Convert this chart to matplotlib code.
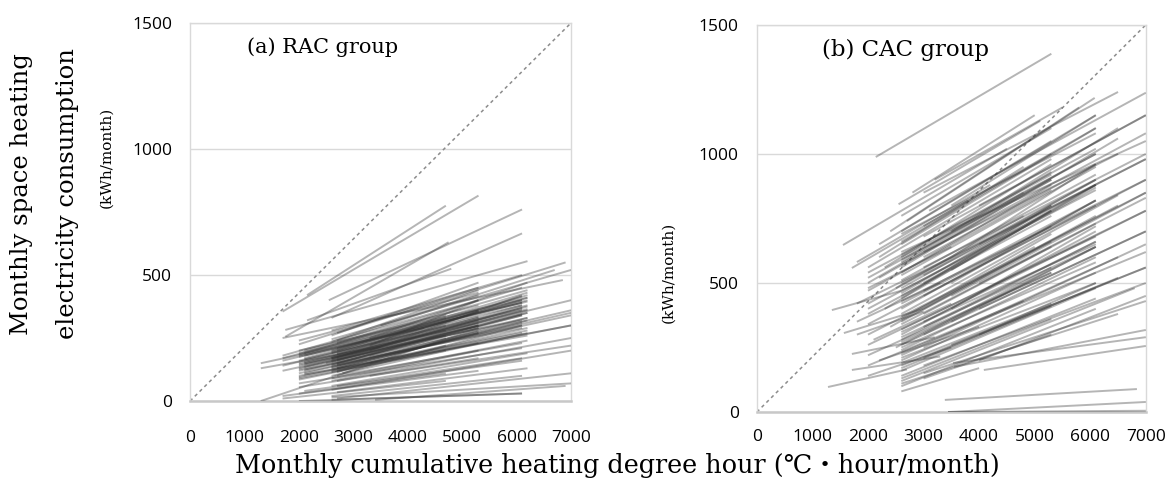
import matplotlib
matplotlib.use("Agg")
import matplotlib.pyplot as plt

# ---------------- data: each segment = (x0, y0) -> (x1, y1) ----------------
rac_x0 = [1700, 2150, 2550, 2600, 1750, 1750, 2150, 1700, 2700, 2600, 2000, 2600, 2700, 2100, 2600, 1700, 1700,
          1300, 1300, 1300, 2000, 2000, 2100, 2000, 2600, 2500, 2700, 2000, 2100, 2600, 2000, 2800, 2700, 2100,
          2000, 2600, 2700, 2000, 1700, 1700, 2600, 2700, 2100, 2600, 2000, 2700, 2600, 2000, 2100, 2600, 2700,
          2000, 2600, 2700, 1700, 2600, 3400, 1700, 2600, 2700, 2000, 3300, 2600, 3500, 2700, 2100, 2600, 2700,
          2000, 2600, 2100, 2700, 3300, 2600, 2000, 2700, 2600, 2000, 3300, 2700, 1700, 2600, 2700, 2100, 3300,
          2600, 2000,
          2000, 2100, 2600, 2700, 2000, 2600, 2100, 2700, 2000, 2600, 3300, 2000, 2600, 2100, 2700, 2000, 2600,
          2700, 2100, 2600, 2000, 3300, 2600, 2700, 2000, 2600, 2100, 2700]
rac_y0 = [355, 420, 400, 330, 282, 255, 320, 250, 270, 245, 225, 260, 200, 190, 235, 180, 160,
          150, 130, 0, 200, 175, 150, 130, 170, 150, 140, 110, 120, 130, 95, 110, 160, 145,
          85, 100, 120, 160, 140, 120, 190, 210, 200, 90, 70, 80, 60, 55, 40, 45, 35,
          30, 20, 10, 10, 5, 5, 20, 170, 230, 240, 250, 280, 300, 185, 170, 140, 150,
          145, 120, 105, 100, 150, 80, 90, 60, 200, 180, 180, 240, 170, 160, 130, 125, 100,
          15, 0,
          185, 165, 155, 175, 140, 125, 135, 115, 120, 165, 200, 150, 145, 110, 190, 190, 175,
          130, 155, 135, 100, 220, 115, 165, 125, 195, 180, 145]
rac_x1 = [5300, 4700, 6100, 6100, 6200, 4750, 4800, 6850, 6900, 7000, 5300, 5300, 6200, 6200, 5300, 5300, 6100,
          4300, 3500, 5300, 6200, 6100, 6200, 5300, 6200, 6100, 7000, 6100, 5300, 6200, 6200, 6100, 5300, 4700,
          5300, 6200, 7000, 6100, 5300, 4700, 6100, 5300, 5300, 6200, 6100, 7000, 6200, 5300, 6100, 7000, 6200,
          4700, 6100, 7000, 4700, 6100, 6900, 5300, 7000, 6100, 5300, 6200, 6100, 6700, 4700, 6200, 5300, 6200,
          6100, 4700, 6200, 6100, 7000, 5300, 4700, 6100, 6200, 4700, 6100, 5300, 4700, 6200, 5300, 6100, 7000,
          7000, 6100,
          6100, 5300, 6200, 6100, 5300, 6100, 6200, 5300, 4700, 5300, 6100, 6200, 6100, 5300, 6200, 6100, 5300,
          6200, 6100, 7000, 6100, 5300, 6200, 6100, 5300, 6100, 6200, 7000]
rac_y1 = [815, 775, 760, 665, 555, 630, 525, 480, 550, 520, 450, 470, 420, 440, 440, 400, 390,
          290, 215, 290, 410, 380, 360, 320, 375, 340, 350, 300, 290, 330, 280, 300, 300, 280,
          230, 270, 300, 365, 330, 260, 400, 360, 380, 240, 210, 250, 190, 170, 160, 200, 130,
          110, 100, 110, 80, 30, 60, 120, 400, 450, 430, 470, 500, 520, 300, 400, 310, 350,
          320, 220, 260, 230, 300, 200, 200, 170, 430, 330, 340, 420, 340, 380, 270, 290, 220,
          70, 30,
          390, 335, 365, 380, 300, 310, 330, 280, 250, 355, 420, 350, 345, 270, 410, 400, 360,
          320, 360, 340, 270, 400, 290, 370, 300, 415, 395, 360]

cac_x0 = [2140, 2550, 3000, 3100, 2700, 1550, 1350, 1280, 1710, 1710, 1566, 1800, 1710, 3383, 3440, 3440,
          3550, 3530, 4085, 2000,
          2600, 2600, 2600, 2600, 2600, 2600, 2600, 2600, 2600, 2600, 2600, 2600, 2600, 2600, 2600, 2600, 2600,
          2600, 2600, 2600, 2600, 2600, 2600, 2600, 2600, 2000, 2000, 2000, 2000, 2000, 2000, 2000, 2000, 2000,
          2000, 3000, 3000, 3000, 3000, 3000, 3000, 3000, 3000, 3000, 3000, 3000, 3000, 2200, 2200, 2400, 2300,
          2500, 2300, 2400, 2500, 3500, 3500, 3500, 3500, 3500, 3500, 2600, 2600, 2600, 2600, 2600, 2600, 2600,
          2600, 2600, 2600, 4000, 4000, 4000, 4000, 4000, 4000, 2000, 1800, 1800, 2100, 2000, 1800, 2200, 3500,
          2800, 3200, 2600, 2600, 2600, 3000, 2600, 3000, 2600,
          2600, 2600, 2600, 2600, 3000, 3000, 3000, 2000, 2000, 2600, 2600, 3500, 3500, 2600, 2600, 3000, 2600,
          2200, 2600, 3000, 2600, 2600]
cac_y0 = [988, 805, 850, 780, 740, 647, 395, 97, 225, 163, 306, 581, 558, 47, 0, 0,
          175, 190, 163, 500,
          700, 650, 620, 600, 560, 530, 500, 480, 450, 430, 400, 380, 350, 320, 300, 280, 260,
          240, 220, 200, 180, 160, 140, 120, 100, 560, 520, 470, 420, 380, 340, 300, 260, 220,
          180, 720, 680, 620, 560, 500, 450, 400, 350, 300, 250, 210, 180, 600, 650, 700, 560,
          480, 400, 330, 250, 550, 450, 350, 260, 700, 600, 760, 540, 420, 340, 270, 190, 130,
          660, 590, 460, 800, 650, 500, 400, 300, 200, 480, 420, 350, 280, 140, 300, 200, 800,
          850, 900, 570, 370, 230, 150, 110, 130, 80,
          610, 510, 440, 290, 600, 470, 330, 540, 400, 690, 250, 500, 400, 580, 360, 530, 210,
          520, 470, 380, 310, 170]
cac_x1 = [5300, 5100, 6500, 7000, 6080, 4500, 2600, 2700, 3200, 3300, 3000, 4200, 3800, 6840, 7000, 7000,
          7000, 7000, 7000, 4800,
          6100, 6100, 7000, 6100, 6500, 6100, 7000, 6100, 6100, 7000, 6100, 6500, 6100, 7000, 6100, 6100, 7000,
          6100, 6500, 6100, 7000, 6100, 6100, 6800, 6100, 5300, 6100, 5300, 6100, 5300, 6100, 5300, 6100, 5300,
          4800, 6100, 7000, 6500, 7000, 6100, 7000, 6500, 7000, 6100, 7000, 6500, 7000, 4800, 5300, 5800, 5300,
          4800, 5300, 5000, 5300, 6100, 7000, 6100, 7000, 6500, 6100, 5300, 5300, 5300, 5300, 5300, 5300, 5300,
          5300, 5300, 5300, 7000, 7000, 7000, 7000, 6100, 7000, 3500, 3500, 3300, 3500, 3500, 3000, 4000, 6100,
          5000, 5500, 7000, 7000, 7000, 7000, 6500, 5300, 4000,
          6100, 6100, 5300, 6100, 6100, 6100, 6100, 5300, 5300, 6100, 6100, 6100, 6100, 5300, 5300, 6100, 6100,
          5300, 6100, 6100, 6100, 5300]
cac_y1 = [1388, 1128, 1240, 1237, 1217, 1020, 470, 165, 290, 215, 400, 880, 820, 89, 39, 5,
          318, 290, 256, 850,
          1150, 1100, 1050, 1000, 1060, 950, 980, 900, 870, 900, 820, 840, 760, 780, 700, 660, 700,
          600, 600, 540, 560, 480, 440, 480, 400, 980, 1000, 860, 900, 760, 800, 660, 680, 540,
          430, 1100, 1150, 1000, 1000, 880, 900, 800, 780, 640, 650, 520, 500, 950, 1050, 1180, 960,
          760, 780, 640, 560, 880, 850, 640, 560, 1100, 960, 1100, 880, 720, 640, 540, 420, 360,
          1000, 900, 800, 1150, 980, 830, 700, 500, 450, 640, 600, 500, 420, 250, 390, 330, 1150,
          1150, 1180, 1080, 850, 620, 430, 380, 300, 170,
          1020, 920, 800, 640, 960, 820, 660, 920, 780, 1080, 580, 820, 720, 930, 690, 880, 500,
          900, 860, 730, 650, 410]

x_ticks = [0, 1000, 2000, 3000, 4000, 5000, 6000, 7000]
y_ticks = [0, 500, 1000, 1500]
x_max, y_max = 7000, 1500

# ---------------- figure ----------------
fig = plt.figure(figsize=(11.68, 4.78), dpi=100)
ax_a = fig.add_axes([0.1627, 0.161, 0.3262, 0.791])
ax_b = fig.add_axes([0.648, 0.138, 0.333, 0.810])

serif = ['DejaVu Serif', 'Noto Sans CJK JP']
tick_font = ['Open Sans', 'DejaVu Sans']

def draw(ax, x0, y0, x1, y1, title, xpad, tx, tsize):
    for a, b, c, d in zip(x0, y0, x1, y1):
        ax.plot([a, c], [b, d], color='#333333', alpha=0.36, lw=1.4,
                solid_capstyle='butt', zorder=3)
    ax.plot([0, x_max], [0, y_max], color='#8c8c8c', lw=1.1,
            linestyle=(0, (2.2, 2.2)), zorder=2)
    ax.set_xlim(0, x_max)
    ax.set_ylim(0, y_max)
    ax.set_xticks(x_ticks)
    ax.set_yticks(y_ticks)
    ax.tick_params(length=0, labelsize=12.5, pad=xpad)
    ax.tick_params(axis='y', pad=13)
    for lab in ax.get_xticklabels() + ax.get_yticklabels():
        lab.set_family(tick_font)
    ax.grid(axis='y', color='#d9d9d9', lw=1.0, zorder=0)
    for s in ['left', 'top', 'right']:
        ax.spines[s].set_color('#d9d9d9')
        ax.spines[s].set_linewidth(1.0)
    ax.spines['bottom'].set_color('#c8c8c8')
    ax.spines['bottom'].set_linewidth(1.8)
    ax.text(tx, 0.935, title, transform=ax.transAxes, ha='center', va='center',
            fontsize=tsize, family=serif)

draw(ax_a, rac_x0, rac_y0, rac_x1, rac_y1, '(a) RAC group', 21, 0.348, 15)
draw(ax_b, cac_x0, cac_y0, cac_x1, cac_y1, '(b) CAC group', 12, 0.382, 16.5)

fig.text(22 / 1168, 1 - 194 / 478, 'Monthly space heating', rotation=90,
         ha='center', va='center', fontsize=17.5, family=serif)
fig.text(68 / 1168, 1 - 194 / 478, 'electricity consumption', rotation=90,
         ha='center', va='center', fontsize=17.5, family=serif)
fig.text(106 / 1168, 1 - 157 / 478, '(kWh/month)', rotation=90,
         ha='center', va='center', fontsize=11, family=serif)
fig.text(668 / 1168, 1 - 272 / 478, '(kWh/month)', rotation=90,
         ha='center', va='center', fontsize=11, family=serif)
fig.text(617 / 1168, 1 - 465 / 478, 'Monthly cumulative heating degree hour (\u2103\u30fbhour/month)',
         ha='center', va='center', fontsize=18.4, family=serif)

fig.savefig('out.png', dpi=100, facecolor='white')
